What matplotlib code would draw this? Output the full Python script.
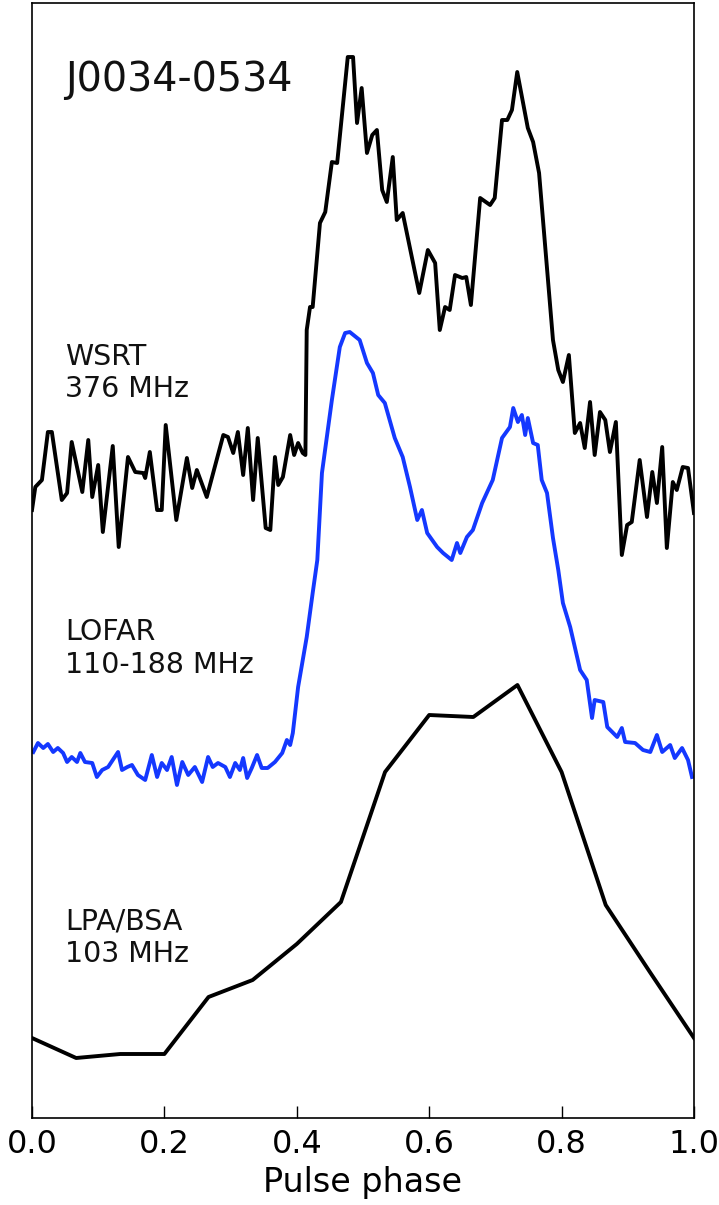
import matplotlib
matplotlib.use("Agg")
import matplotlib.pyplot as plt

# pulse profiles of J0034-0534, stacked with offsets (arbitrary flux units)
wsrt_phase = [0.000, 0.005, 0.015, 0.024, 0.030, 0.045, 0.053, 0.060, 0.076, 0.085,
              0.091, 0.100, 0.107, 0.122, 0.131, 0.145, 0.156, 0.168, 0.171, 0.178,
              0.189, 0.196, 0.202, 0.218, 0.234, 0.242, 0.249, 0.264, 0.289, 0.296,
              0.304, 0.311, 0.319, 0.326, 0.334, 0.341, 0.353, 0.360, 0.367, 0.372,
              0.379, 0.390, 0.396, 0.402, 0.409, 0.413, 0.415, 0.420, 0.424, 0.435,
              0.443, 0.453, 0.461, 0.477, 0.485, 0.491, 0.498, 0.506, 0.514, 0.521,
              0.529, 0.536, 0.545, 0.551, 0.560, 0.585, 0.598, 0.609, 0.616, 0.624,
              0.631, 0.639, 0.650, 0.656, 0.663, 0.677, 0.692, 0.699, 0.710, 0.718,
              0.725, 0.733, 0.749, 0.757, 0.766, 0.787, 0.795, 0.802, 0.811, 0.820,
              0.828, 0.835, 0.843, 0.850, 0.858, 0.866, 0.873, 0.882, 0.891, 0.899,
              0.906, 0.918, 0.929, 0.937, 0.944, 0.952, 0.959, 0.968, 0.974, 0.983,
              0.991, 1.000]
wsrt_flux = [6.08, 6.31, 6.38, 6.86, 6.86, 6.18, 6.25, 6.76, 6.26, 6.78,
             6.21, 6.53, 5.86, 6.72, 5.71, 6.61, 6.46, 6.45, 6.40, 6.66,
             6.08, 6.08, 6.93, 5.98, 6.60, 6.30, 6.48, 6.21, 6.83, 6.81,
             6.65, 6.86, 6.43, 6.90, 6.18, 6.80, 5.90, 5.88, 6.61, 6.33,
             6.41, 6.83, 6.63, 6.75, 6.65, 6.63, 7.88, 8.11, 8.11, 8.95,
             9.06, 9.56, 9.55, 10.61, 10.61, 9.95, 10.30, 9.65, 9.83, 9.88,
             9.28, 9.16, 9.61, 8.98, 9.05, 8.25, 8.68, 8.55, 7.88, 8.11,
             8.08, 8.43, 8.40, 8.41, 8.13, 9.20, 9.13, 9.20, 9.98, 9.98,
             10.08, 10.46, 9.90, 9.76, 9.45, 7.78, 7.48, 7.36, 7.63, 6.85,
             6.95, 6.70, 7.16, 6.63, 7.06, 6.98, 6.66, 6.96, 5.63, 5.93,
             5.96, 6.58, 6.01, 6.46, 6.15, 6.71, 5.70, 6.36, 6.28, 6.51,
             6.50, 6.05]

lofar_phase = [0.002, 0.009, 0.017, 0.024, 0.032, 0.039, 0.047, 0.053, 0.060, 0.068,
               0.073, 0.080, 0.091, 0.098, 0.106, 0.115, 0.122, 0.130, 0.136, 0.144,
               0.151, 0.160, 0.171, 0.181, 0.189, 0.196, 0.204, 0.211, 0.219, 0.227,
               0.236, 0.246, 0.257, 0.266, 0.273, 0.281, 0.292, 0.299, 0.307, 0.314,
               0.319, 0.325, 0.332, 0.340, 0.347, 0.356, 0.367, 0.378, 0.385, 0.390,
               0.394, 0.402, 0.415, 0.424, 0.431, 0.438, 0.453, 0.465, 0.473, 0.480,
               0.495, 0.506, 0.515, 0.523, 0.533, 0.548, 0.560, 0.571, 0.582, 0.589,
               0.597, 0.612, 0.621, 0.634, 0.642, 0.647, 0.657, 0.666, 0.680, 0.696,
               0.710, 0.722, 0.727, 0.734, 0.740, 0.745, 0.749, 0.757, 0.764, 0.770,
               0.778, 0.787, 0.795, 0.802, 0.813, 0.828, 0.838, 0.846, 0.850, 0.863,
               0.869, 0.884, 0.891, 0.896, 0.911, 0.923, 0.934, 0.944, 0.952, 0.964,
               0.971, 0.982, 0.991, 0.997]
lofar_flux = [3.66, 3.75, 3.70, 3.74, 3.66, 3.70, 3.65, 3.56, 3.61, 3.56,
              3.65, 3.56, 3.55, 3.41, 3.48, 3.51, 3.58, 3.66, 3.48, 3.51,
              3.53, 3.43, 3.38, 3.63, 3.41, 3.55, 3.48, 3.61, 3.33, 3.56,
              3.43, 3.51, 3.36, 3.61, 3.51, 3.55, 3.51, 3.41, 3.55, 3.48,
              3.60, 3.40, 3.50, 3.63, 3.50, 3.50, 3.56, 3.65, 3.78, 3.73,
              3.85, 4.31, 4.81, 5.25, 5.58, 6.45, 7.18, 7.71, 7.85, 7.86,
              7.78, 7.55, 7.45, 7.23, 7.15, 6.80, 6.61, 6.31, 5.98, 6.08,
              5.85, 5.71, 5.65, 5.58, 5.75, 5.65, 5.81, 5.88, 6.15, 6.38,
              6.80, 6.91, 7.10, 6.96, 7.03, 6.83, 7.00, 6.75, 6.73, 6.38,
              6.25, 5.80, 5.48, 5.15, 4.91, 4.48, 4.38, 4.00, 4.18, 4.16,
              3.91, 3.81, 3.90, 3.76, 3.75, 3.68, 3.66, 3.83, 3.66, 3.73,
              3.60, 3.70, 3.58, 3.41]

lpa_phase = [0/15, 1/15, 2/15, 3/15, 4/15, 5/15, 6/15, 7/15,
             8/15, 9/15, 10/15, 11/15, 12/15, 13/15, 14/15, 15/15]
lpa_flux = [0.80, 0.60, 0.64, 0.64, 1.21, 1.38, 1.74, 2.16,
            3.46, 4.03, 4.01, 4.33, 3.46, 2.13, 1.46, 0.80]

labels = ["WSRT\n376 MHz", "LOFAR\n110-188 MHz", "LPA/BSA\n103 MHz"]
label_y = [0.668, 0.421, 0.162]
psr_name = "J0034-0534"

fig = plt.figure(figsize=(7.19, 12.05), dpi=100)
ax = fig.add_axes([0.0445, 0.0722, 0.9207, 0.9253])

ax.plot(wsrt_phase, wsrt_flux, color="black", lw=2.8)
ax.plot(lofar_phase, lofar_flux, color="#1438ff", lw=2.8)
ax.plot(lpa_phase, lpa_flux, color="black", lw=2.8)

for txt, yy in zip(labels, label_y):
    ax.text(0.05, yy, txt, transform=ax.transAxes, ha="left", va="center",
            fontsize=20.5, color="#111111")
ax.text(0.05, 0.931, psr_name, transform=ax.transAxes, ha="left", va="center",
        fontsize=28.5, color="#111111")

ax.set_xlim(0, 1)
ax.set_ylim(0, 11.15)
ax.set_xticks([0.0, 0.2, 0.4, 0.6, 0.8, 1.0])
ax.set_xticklabels(["0.0", "0.2", "0.4", "0.6", "0.8", "1.0"])
ax.set_yticks([])
ax.tick_params(axis="x", direction="in", length=8.5, width=1, labelsize=23,
               pad=8, top=False)
ax.set_xlabel("Pulse phase", fontsize=24, labelpad=4)
for sp in ax.spines.values():
    sp.set_linewidth(1.2)

plt.savefig("out.png", dpi=100)
plt.close()
